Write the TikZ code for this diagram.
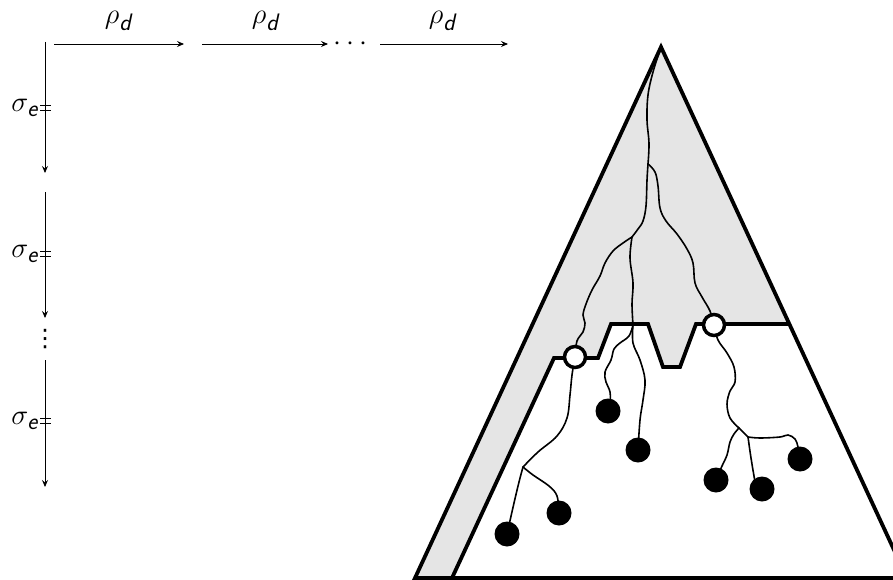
\documentclass[tikz,border=0pt]{standalone}
\usepackage{amsmath}
\usetikzlibrary{arrows.meta}
\font\dvfont="DejaVu Sans" at 24pt
\begin{document}
\begin{tikzpicture}[x=1pt,y=-1pt,
  thickline/.style={line width=3.8pt},
  branch/.style={line width=1.6pt,line cap=round},
  arr/.style={line width=0.9pt,-{Stealth[length=7pt,width=6pt,inset=2.5pt]}},
  lab/.style={font=\Huge,inner sep=0pt,scale=1.15,transform shape},
  opencirc/.style={circle,draw,fill=white,line width=3.5pt,minimum size=21pt,inner sep=0pt},
  leaf/.style={circle,fill=black,minimum size=25pt,inner sep=0pt},
  tick/.style={line width=0.9pt}
]
\useasboundingbox (0,0) rectangle (893,580);
\clip (0,0) rectangle (893,580);

% ---- top arrows ----
\coordinate (h0) at (54,44);  \coordinate (h1) at (184,44);
\coordinate (h2) at (202,44); \coordinate (h3) at (328,44);
\coordinate (h4) at (380,44); \coordinate (h5) at (508,44);
\draw[arr] (h0) -- (h1);
\draw[arr] (h2) -- (h3);
\draw[arr] (h4) -- (h5);
\node[lab] (r1) at (119,21) {$\rho_{\textsf{\textit{d}}}$};
\node[lab] (r2) at (266,21) {$\rho_{\textsf{\textit{d}}}$};
\node[lab] (r3) at (443,21) {$\rho_{\textsf{\textit{d}}}$};
\node[lab] (hd) at (353,44) {$\cdots$};

% ---- left arrows ----
\coordinate (v0) at (45,42);  \coordinate (v1) at (45,173);
\coordinate (v2) at (45,192); \coordinate (v3) at (45,318);
\coordinate (v4) at (45,360); \coordinate (v5) at (45,487);
\draw[arr] (v0) -- (v1);
\draw[arr] (v2) -- (v3);
\draw[arr] (v4) -- (v5);
\node[inner sep=0pt] (vd) at (45,339) {\dvfont ⋮};
\foreach \y/\n in {108/s1,254/s2,421/s3}{
  \node[lab,anchor=east] (\n) at (39,\y) {$\sigma_{\textsf{\textit{e}}}$};
  \coordinate (\n a) at (40,\y-2.5); \coordinate (\n b) at (51,\y-2.5);
  \coordinate (\n c) at (40,\y+2.5); \coordinate (\n d) at (51,\y+2.5);
  \draw[tick] (\n a) -- (\n b);
  \draw[tick] (\n c) -- (\n d);
}

% ---- triangle ----
\coordinate (A) at (661,47);
\coordinate (L) at (415,578);
\coordinate (R) at (907,578);
\coordinate (I0) at (452,578);
\fill[gray!20] (A) -- (L) -- (I0) -- (554,358) -- (598,358) -- (611,324) -- (648,324)
   -- (663,367) -- (680,367) -- (696,324) -- (789,324) -- cycle;

% tree points
\coordinate (B1) at (648,164);
\coordinate (B2) at (632,237);
\coordinate (B3) at (633,325);
\coordinate (B4) at (523,467);
\coordinate (B5) at (739,428);
\coordinate (B6) at (748,437);
\coordinate (pO1) at (575,357);
\coordinate (pO2) at (714,325);
\coordinate (pD1) at (507,534);
\coordinate (pD2) at (559,513);
\coordinate (pD3) at (608,411);
\coordinate (pD4) at (638,450);
\coordinate (pD5) at (716,480);
\coordinate (pD6) at (762,489);
\coordinate (pD7) at (800,459);

\begin{scope}[branch]
\draw plot[smooth,tension=0.6] coordinates {(A) (653,72) (648,95) (647,120) (649,143) (B1)};
\draw plot[smooth,tension=0.6] coordinates {(B1) (655,172) (658,186) (660,208) (666,221) (677,234) (687,249) (693,263) (695,283) (702,297) (710,311) (pO2)};
\draw plot[smooth,tension=0.6] coordinates {(B1) (647,180) (646,206) (643,221) (638,229) (B2)};
\draw plot[smooth,tension=0.6] coordinates {(B2) (623,243) (613,251) (605,263) (600,276) (592,290) (586,304) (583,315) (585,323) (583,332) (577,341) (pO1)};
\draw plot[smooth,tension=0.6] coordinates {(B2) (630,258) (633,283) (632,304) (B3)};
\draw plot[smooth,tension=0.6] coordinates {(B3) (629,336) (620,343) (614,349) (611,360) (605,372) (606,382) (610,392) (610,405) (pD3)};
\draw plot[smooth,tension=0.6] coordinates {(B3) (633,343) (640,360) (645,380) (643,400) (640,420) (pD4)};
\draw plot[smooth,tension=0.6] coordinates {(pO1) (572,375) (570,395) (567,418) (557,436) (538,452) (B4)};
\draw plot[smooth,tension=0.6] coordinates {(B4) (519,482) (514,503) (pD1)};
\draw plot[smooth,tension=0.6] coordinates {(B4) (533,475) (549,486) (557,496) (pD2)};
\draw plot[smooth,tension=0.6] coordinates {(pO2) (718,340) (727,353) (734,367) (735,382) (730,391) (727,404) (730,418) (B5)};
\draw plot[smooth,tension=0.6] coordinates {(B5) (734,434) (730,442) (727,455) (722,466) (pD5)};
\draw (B5) -- (B6);
\draw plot[smooth,tension=0.6] coordinates {(B6) (751,458) (755,482)};
\draw plot[smooth,tension=0.6] coordinates {(B6) (760,438) (780,437) (788,435) (795,439) (798,447) (pD7)};
\end{scope}

\draw[thickline,line join=miter] (A) -- (L) -- (R) -- cycle;
\draw[thickline,line join=miter] (I0) -- (554,358) -- (598,358) -- (611,324) -- (648,324)
   -- (663,367) -- (680,367) -- (696,324) -- (789,324);

\node[opencirc] (O1) at (pO1) {};
\node[opencirc] (O2) at (pO2) {};
\foreach \i in {1,...,7}{ \node[leaf] (D\i) at (pD\i) {}; }
\end{tikzpicture}
\end{document}
